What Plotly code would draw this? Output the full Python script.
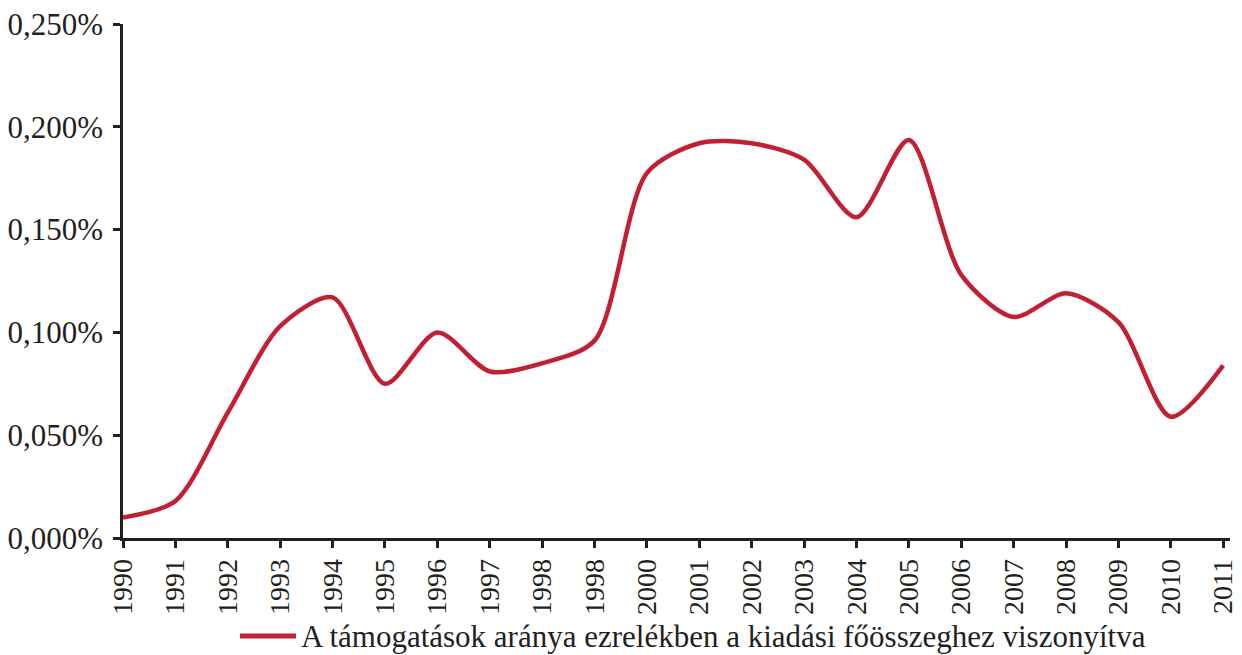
import plotly.graph_objects as go

years = ["1990", "1991", "1992", "1993", "1994", "1995", "1996", "1997", "1998",
         "1998", "2000", "2001", "2002", "2003", "2004", "2005", "2006", "2007",
         "2008", "2009", "2010", "2011"]
values = [0.010, 0.018, 0.061, 0.103, 0.117, 0.075, 0.100, 0.081, 0.085,
          0.096, 0.1775, 0.192, 0.192, 0.184, 0.156, 0.1936, 0.128, 0.1075,
          0.119, 0.105, 0.059, 0.084]
y_ticks = [0.0, 0.05, 0.10, 0.15, 0.20, 0.25]
y_labels = ["0,000%", "0,050%", "0,100%", "0,150%", "0,200%", "0,250%"]
series_name = "A támogatások aránya ezrelékben a kiadási főösszeghez viszonyítva"

RED = "#C21F32"
AX = "#231F20"
FONT = "Liberation Serif"

# page body has an 8px default margin; compensate
W, H = 1234, 647
L, R, T, B = 115, 12, 16, 117
PW = W - L - R
PH = H - T - B

xs = list(range(len(years)))

fig = go.Figure()
fig.add_trace(go.Scatter(
    x=xs, y=values, mode="lines", name=series_name,
    line=dict(color=RED, width=4.5, shape="spline", smoothing=0.8),
    showlegend=False,
))

fig.update_layout(
    width=W, height=H,
    margin=dict(l=L, r=R, t=T, b=B),
    paper_bgcolor="white", plot_bgcolor="white",
    font=dict(family=FONT, color=AX),
    xaxis=dict(
        range=[0, len(years) - 1 + 0.13],
        tickmode="array", tickvals=xs, ticktext=years,
        tickangle=-90, tickfont=dict(size=28, family=FONT, color=AX),
        ticks="outside", ticklen=7, tickwidth=2.5, tickcolor=AX,
        showline=True, linecolor=AX, linewidth=2.5,
        showgrid=False, zeroline=False, automargin=False,
        ticklabeloverflow="allow",
    ),
    yaxis=dict(
        range=[0, 0.25],
        tickmode="array", tickvals=y_ticks, ticktext=y_labels,
        tickfont=dict(size=31, family=FONT, color=AX),
        ticks="outside", ticklen=7, tickwidth=2.5, tickcolor=AX,
        showline=True, linecolor=AX, linewidth=2.5,
        showgrid=False, zeroline=False, automargin=False,
        ticklabelstandoff=4, ticklabeloverflow="allow",
    ),
)

# legend drawn manually: line sample + text (reference pixel positions minus 8px page offset)
ly = -(636 - 538) / PH
fig.add_shape(type="line", xref="paper", yref="paper",
              x0=(240 - 123) / PW, x1=(296 - 123) / PW,
              y0=ly, y1=ly,
              line=dict(color=RED, width=5))
fig.add_annotation(xref="paper", yref="paper",
                   x=(299 - 123) / PW, y=ly,
                   xanchor="left", yanchor="middle", showarrow=False,
                   text=series_name,
                   font=dict(size=31, family=FONT, color=AX))

fig.write_html("out.html")
